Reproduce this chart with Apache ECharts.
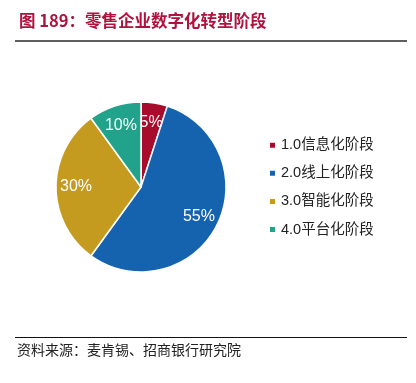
<!DOCTYPE html>
<html>
<head>
<meta charset="utf-8">
<script src="https://cdn.jsdelivr.net/npm/echarts@6/dist/echarts.min.js"></script>
<style>
  html, body { margin: 0; padding: 0; background: #fff; }
  #chart { width: 416px; height: 383px; }
</style>
</head>
<body>
<div id="chart"></div>
<script>
var stageNames = ['1.0信息化阶段', '2.0线上化阶段', '3.0智能化阶段', '4.0平台化阶段'];
var stageShares = [5, 55, 30, 10];
var stageColors = ['#A80C2C', '#1563AE', '#C49B1E', '#20A38A'];

var chart = echarts.init(document.getElementById('chart'));

var pieData = stageNames.map(function (name, i) {
  return { name: name, value: stageShares[i], itemStyle: { color: stageColors[i] } };
});

var option = {
  backgroundColor: '#fff',
  animation: false,
  title: {
    text: '图 189：零售企业数字化转型阶段',
    left: 14,
    top: 7,
    textStyle: {
      fontFamily: 'Noto Sans CJK SC',
      fontSize: 16.5,
      fontWeight: 'bold',
      color: '#B0123E'
    }
  },
  legend: {
    orient: 'vertical',
    left: 263,
    top: 133,
    itemWidth: 7,
    itemHeight: 7,
    itemGap: 13.6,
    icon: 'rect',
    data: stageNames,
    textStyle: {
      fontFamily: 'Liberation Sans, Noto Sans CJK SC',
      fontSize: 14.5,
      color: '#222'
    }
  },
  graphic: [
    { type: 'line', shape: { x1: 15, y1: 41, x2: 407, y2: 41 }, style: { stroke: '#5e5e5e', lineWidth: 2 } },
    { type: 'line', shape: { x1: 15, y1: 337.5, x2: 407, y2: 337.5 }, style: { stroke: '#111', lineWidth: 1 } },
    {
      type: 'text', left: 17, top: 343,
      style: { text: '资料来源：麦肯锡、招商银行研究院', font: '14px "Noto Sans CJK SC"', fill: '#222' }
    }
  ],
  series: [{
    name: '阶段',
    type: 'pie',
    center: [141, 187],
    radius: [0, 85],
    startAngle: 90,
    clockwise: true,
    data: pieData,
    itemStyle: { borderColor: '#fff', borderWidth: 1.5 },
    label: { show: false },
    labelLine: { show: false },
    emphasis: { disabled: true }
  }, {
    // transparent overlay that only carries the labels further out
    name: '标签',
    type: 'pie',
    center: [141, 187],
    radius: [39, 85],
    startAngle: 90,
    clockwise: true,
    silent: true,
    data: stageNames.map(function (name, i) {
      return { name: name, value: stageShares[i], itemStyle: { color: 'rgba(0,0,0,0)' } };
    }),
    itemStyle: { borderWidth: 0 },
    label: {
      show: true,
      position: 'inside',
      formatter: '{c}%',
      fontFamily: 'Liberation Sans',
      fontSize: 16,
      color: '#fff'
    },
    labelLine: { show: false },
    emphasis: { disabled: true }
  }]
};

chart.setOption(option);
</script>
</body>
</html>
